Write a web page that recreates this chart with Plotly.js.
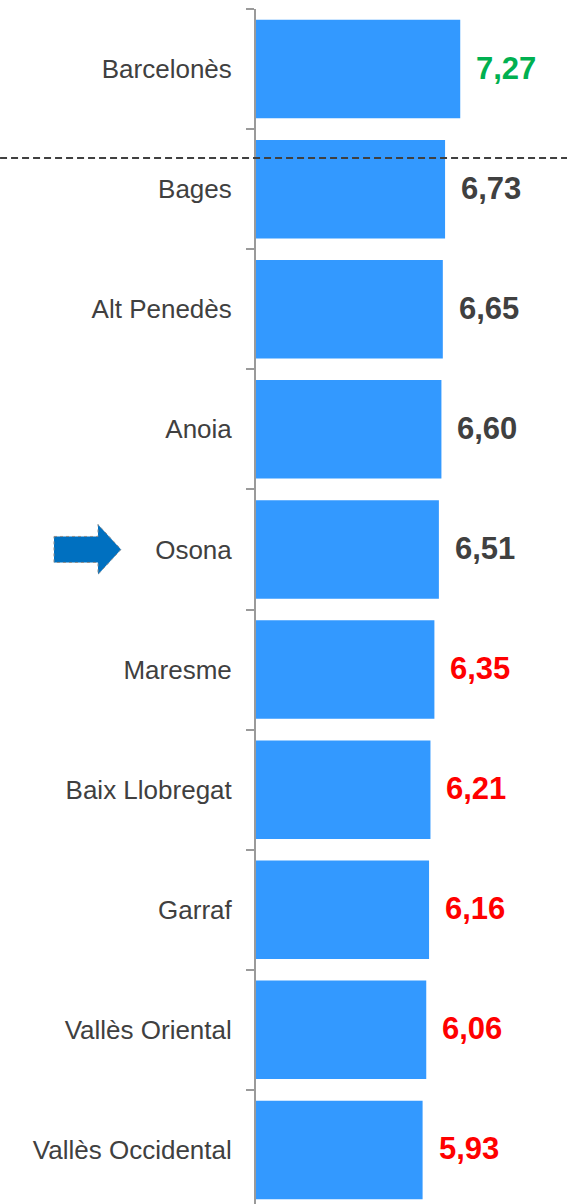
<!DOCTYPE html>
<html>
<head>
<meta charset="utf-8">
<script src="https://cdn.plot.ly/plotly-3.0.1.min.js"></script>
<style>
  html, body { margin: 0; padding: 0; background: #fff; }
  #chart { width: 567px; height: 1204px; }
</style>
</head>
<body>
<div id="chart"></div>
<script>
// comarques, de dalt a baix
var comarques = ["Barcelonès", "Bages", "Alt Penedès", "Anoia", "Osona",
                 "Maresme", "Baix Llobregat", "Garraf", "Vallès Oriental", "Vallès Occidental"];
var valors = [7.27, 6.73, 6.65, 6.60, 6.51, 6.35, 6.21, 6.16, 6.06, 5.93];
var colorsEtiqueta = ["#00B050", "#404040", "#404040", "#404040", "#404040",
                      "#FF0000", "#FF0000", "#FF0000", "#FF0000", "#FF0000"];
var destacada = "Osona";

// text amb coma decimal
function fmt(v){
  return v.toFixed(2).replace(".", ",");
}

var data = [{
  type: "bar",
  orientation: "h",
  x: valors,
  y: comarques,
  marker: {color: "#3399FF"},
  hoverinfo: "skip"
}];

var annotations = [];
for (var i = 0; i < comarques.length; i++) {
  annotations.push({
    x: valors[i],
    y: comarques[i],
    xref: "x",
    yref: "y",
    text: "<b>" + fmt(valors[i]) + "</b>",
    showarrow: false,
    xanchor: "left",
    xshift: 14,
    yshift: 1,
    font: {family: "Liberation Sans, Arial, sans-serif", size: 31, color: colorsEtiqueta[i]}
  });
}

var idx = comarques.indexOf(destacada);

var shapes = [
  // linia discontinua sota Barcelonès
  {
    type: "line",
    xref: "paper", x0: -0.823, x1: 1,
    yref: "y", y0: 0.74, y1: 0.74,
    line: {color: "#404040", width: 2, dash: "7px,4px"}
  },
  // fletxa que assenyala Osona
  {
    type: "path",
    xref: "paper", xsizemode: "pixel", xanchor: 0,
    yref: "y", ysizemode: "pixel", yanchor: idx,
    path: "M -202 13 L -158 13 L -158 25 L -135 0 L -158 -25 L -158 -13 L -202 -13 Z",
    fillcolor: "#0070C0",
    line: {color: "#8c8c8c", width: 1, dash: "dot"}
  }
];

var layout = {
  width: 567,
  height: 1204,
  margin: {l: 256, r: 0, t: 9, b: 0},
  paper_bgcolor: "#fff",
  plot_bgcolor: "#fff",
  showlegend: false,
  bargap: 0.18,
  font: {family: "Liberation Sans, Arial, sans-serif", color: "#404040"},
  xaxis: {
    range: [0, 11.07],
    visible: false,
    fixedrange: true
  },
  yaxis: {
    type: "category",
    categoryorder: "array",
    categoryarray: comarques,
    range: [9.45, -0.5],
    showline: true,
    linecolor: "#9a9a9a",
    linewidth: 2,
    ticks: "outside",
    tickson: "boundaries",
    ticklen: 8,
    tickwidth: 2,
    tickcolor: "#9a9a9a",
    ticklabelstandoff: 17,
    tickfont: {size: 26, color: "#404040"},
    showgrid: false,
    zeroline: false,
    fixedrange: true
  },
  annotations: annotations,
  shapes: shapes
};

Plotly.newPlot("chart", data, layout, {displayModeBar: false, staticPlot: true});
</script>
</body>
</html>
